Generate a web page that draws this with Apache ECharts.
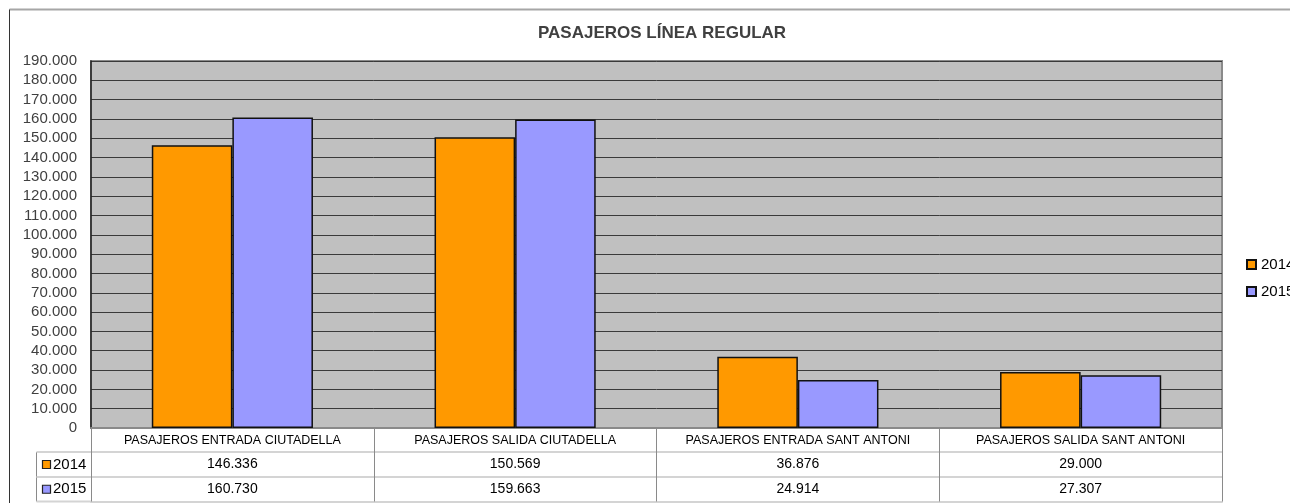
<!DOCTYPE html>
<html>
<head>
<meta charset="utf-8">
<script src="https://cdn.jsdelivr.net/npm/echarts@6/dist/echarts.min.js"></script>
<style>
html,body{margin:0;padding:0;background:#fff;}
#c{width:1290px;height:503px;}
</style>
</head>
<body>
<div id="c"></div>
<script>
const titleText = 'PASAJEROS LÍNEA REGULAR';
const categories = ['PASAJEROS ENTRADA CIUTADELLA', 'PASAJEROS SALIDA CIUTADELLA', 'PASAJEROS ENTRADA SANT ANTONI', 'PASAJEROS SALIDA SANT ANTONI'];
const years = ['2014', '2015'];
const values2014 = [146336, 150569, 36876, 29000];
const values2015 = [160730, 159663, 24914, 27307];
const colors = ['#FF9900', '#9999FF'];
const yMin = 0, yMax = 190000, yStep = 10000;

function fmt(v) {
  return String(v).replace(/\B(?=(\d{3})+(?!\d))/g, '.');
}

const FONT = '"Liberation Sans", Arial, sans-serif';
const G = { left: 91, right: 68, top: 61, bottom: 75 };
const W = 1290, H = 503;
const plotBottom = H - G.bottom;
const rowH = [24, 25, 24.5];
const off1 = rowH[0], off2 = rowH[0] + rowH[1], off3 = rowH[0] + rowH[1] + rowH[2];

function rowAxis(data, offset, showLabels) {
  return {
    type: 'category', gridIndex: 0, position: 'bottom', offset: offset,
    data: data,
    boundaryGap: true,
    axisLine: { show: true, lineStyle: { color: '#d4d4d4', width: 2 } },
    axisTick: { show: false },
    splitLine: { show: false },
    axisLabel: showLabels ? {
      show: true, interval: 0, margin: 5, color: '#000', fontFamily: FONT, fontSize: 14
    } : { show: false }
  };
}

function rowKey(i, rowTop, rowHeight) {
  const cy = plotBottom + rowTop + rowHeight / 2;
  return [
    { type: 'rect', shape: { x: 42.5, y: cy - 4, width: 8, height: 8 },
      style: { fill: colors[i], stroke: '#222', lineWidth: 1.2 }, silent: true, z: 10 },
    { type: 'text', x: 53, y: cy,
      style: { text: years[i], fontFamily: FONT, fontSize: 15, fill: '#000', verticalAlign: 'middle', align: 'left' },
      silent: true, z: 10 }
  ];
}

const chart = echarts.init(document.getElementById('c'), null, { renderer: 'canvas' });
chart.setOption({
  animation: false,
  backgroundColor: '#fff',
  title: {
    text: titleText, left: 533, top: 20,
    textStyle: { fontFamily: FONT, fontSize: 17, fontWeight: 'bold', color: '#404040' }
  },
  legend: {
    data: years, orient: 'vertical', left: 1241, top: 252,
    itemWidth: 9, itemHeight: 9, itemGap: 12, icon: 'rect',
    textStyle: { fontFamily: FONT, fontSize: 15, color: '#000' }
  },
  grid: {
    left: G.left, right: G.right, top: G.top, bottom: G.bottom,
    show: true, backgroundColor: '#C0C0C0', borderColor: '#8a8a8a', borderWidth: 2
  },
  xAxis: [
    {
      type: 'category', gridIndex: 0, position: 'bottom', data: categories,
      boundaryGap: true,
      axisLine: { show: true, lineStyle: { color: '#8a8a8a', width: 2 } },
      axisTick: { show: true, interval: 0, length: off3, lineStyle: { color: '#8a8a8a', width: 1 } },
      splitLine: { show: false },
      axisLabel: { interval: 0, margin: 6, color: '#000', fontFamily: FONT, fontSize: 12.5 }
    },
    rowAxis(values2014.map(fmt), off1, true),
    rowAxis(values2015.map(fmt), off2, true),
    rowAxis(['', '', '', ''], off3, false)
  ],
  yAxis: {
    type: 'value', min: yMin, max: yMax, interval: yStep,
    axisLine: { show: true, lineStyle: { color: '#222', width: 1.5 } },
    axisTick: { show: false },
    splitLine: { show: true, lineStyle: { color: '#3a3a3a', width: 1 } },
    axisLabel: { formatter: fmt, margin: 14, color: '#404040', fontFamily: FONT, fontSize: 15 }
  },
  series: [
    {
      name: years[0], type: 'bar', data: values2014, xAxisIndex: 0,
      barGap: '0%', barCategoryGap: '43%',
      itemStyle: { color: colors[0], borderColor: '#111', borderWidth: 1.5 }
    },
    {
      name: years[1], type: 'bar', data: values2015, xAxisIndex: 0,
      barGap: '0%', barCategoryGap: '43%',
      itemStyle: { color: colors[1], borderColor: '#111', borderWidth: 1.5 }
    }
  ],
  graphic: [
    { type: 'line', shape: { x1: 9.5, y1: 9.5, x2: W, y2: 9.5 }, style: { stroke: '#a6a6a6', lineWidth: 2 }, silent: true },
    { type: 'line', shape: { x1: 9.5, y1: 9.5, x2: 9.5, y2: H }, style: { stroke: '#333', lineWidth: 1 }, silent: true },
    { type: 'line', shape: { x1: 36.5, y1: plotBottom + off1, x2: 36.5, y2: plotBottom + off3 }, style: { stroke: '#8a8a8a', lineWidth: 1 }, silent: true },
    { type: 'line', shape: { x1: 36.5, y1: plotBottom + off1, x2: G.left, y2: plotBottom + off1 }, style: { stroke: '#d4d4d4', lineWidth: 2 }, silent: true },
    { type: 'line', shape: { x1: 36.5, y1: plotBottom + off2, x2: G.left, y2: plotBottom + off2 }, style: { stroke: '#d4d4d4', lineWidth: 2 }, silent: true },
    { type: 'line', shape: { x1: 36.5, y1: plotBottom + off3, x2: G.left, y2: plotBottom + off3 }, style: { stroke: '#d4d4d4', lineWidth: 2 }, silent: true }
  ].concat(rowKey(0, off1, rowH[1]), rowKey(1, off2, rowH[2]))
});
</script>
</body>
</html>
